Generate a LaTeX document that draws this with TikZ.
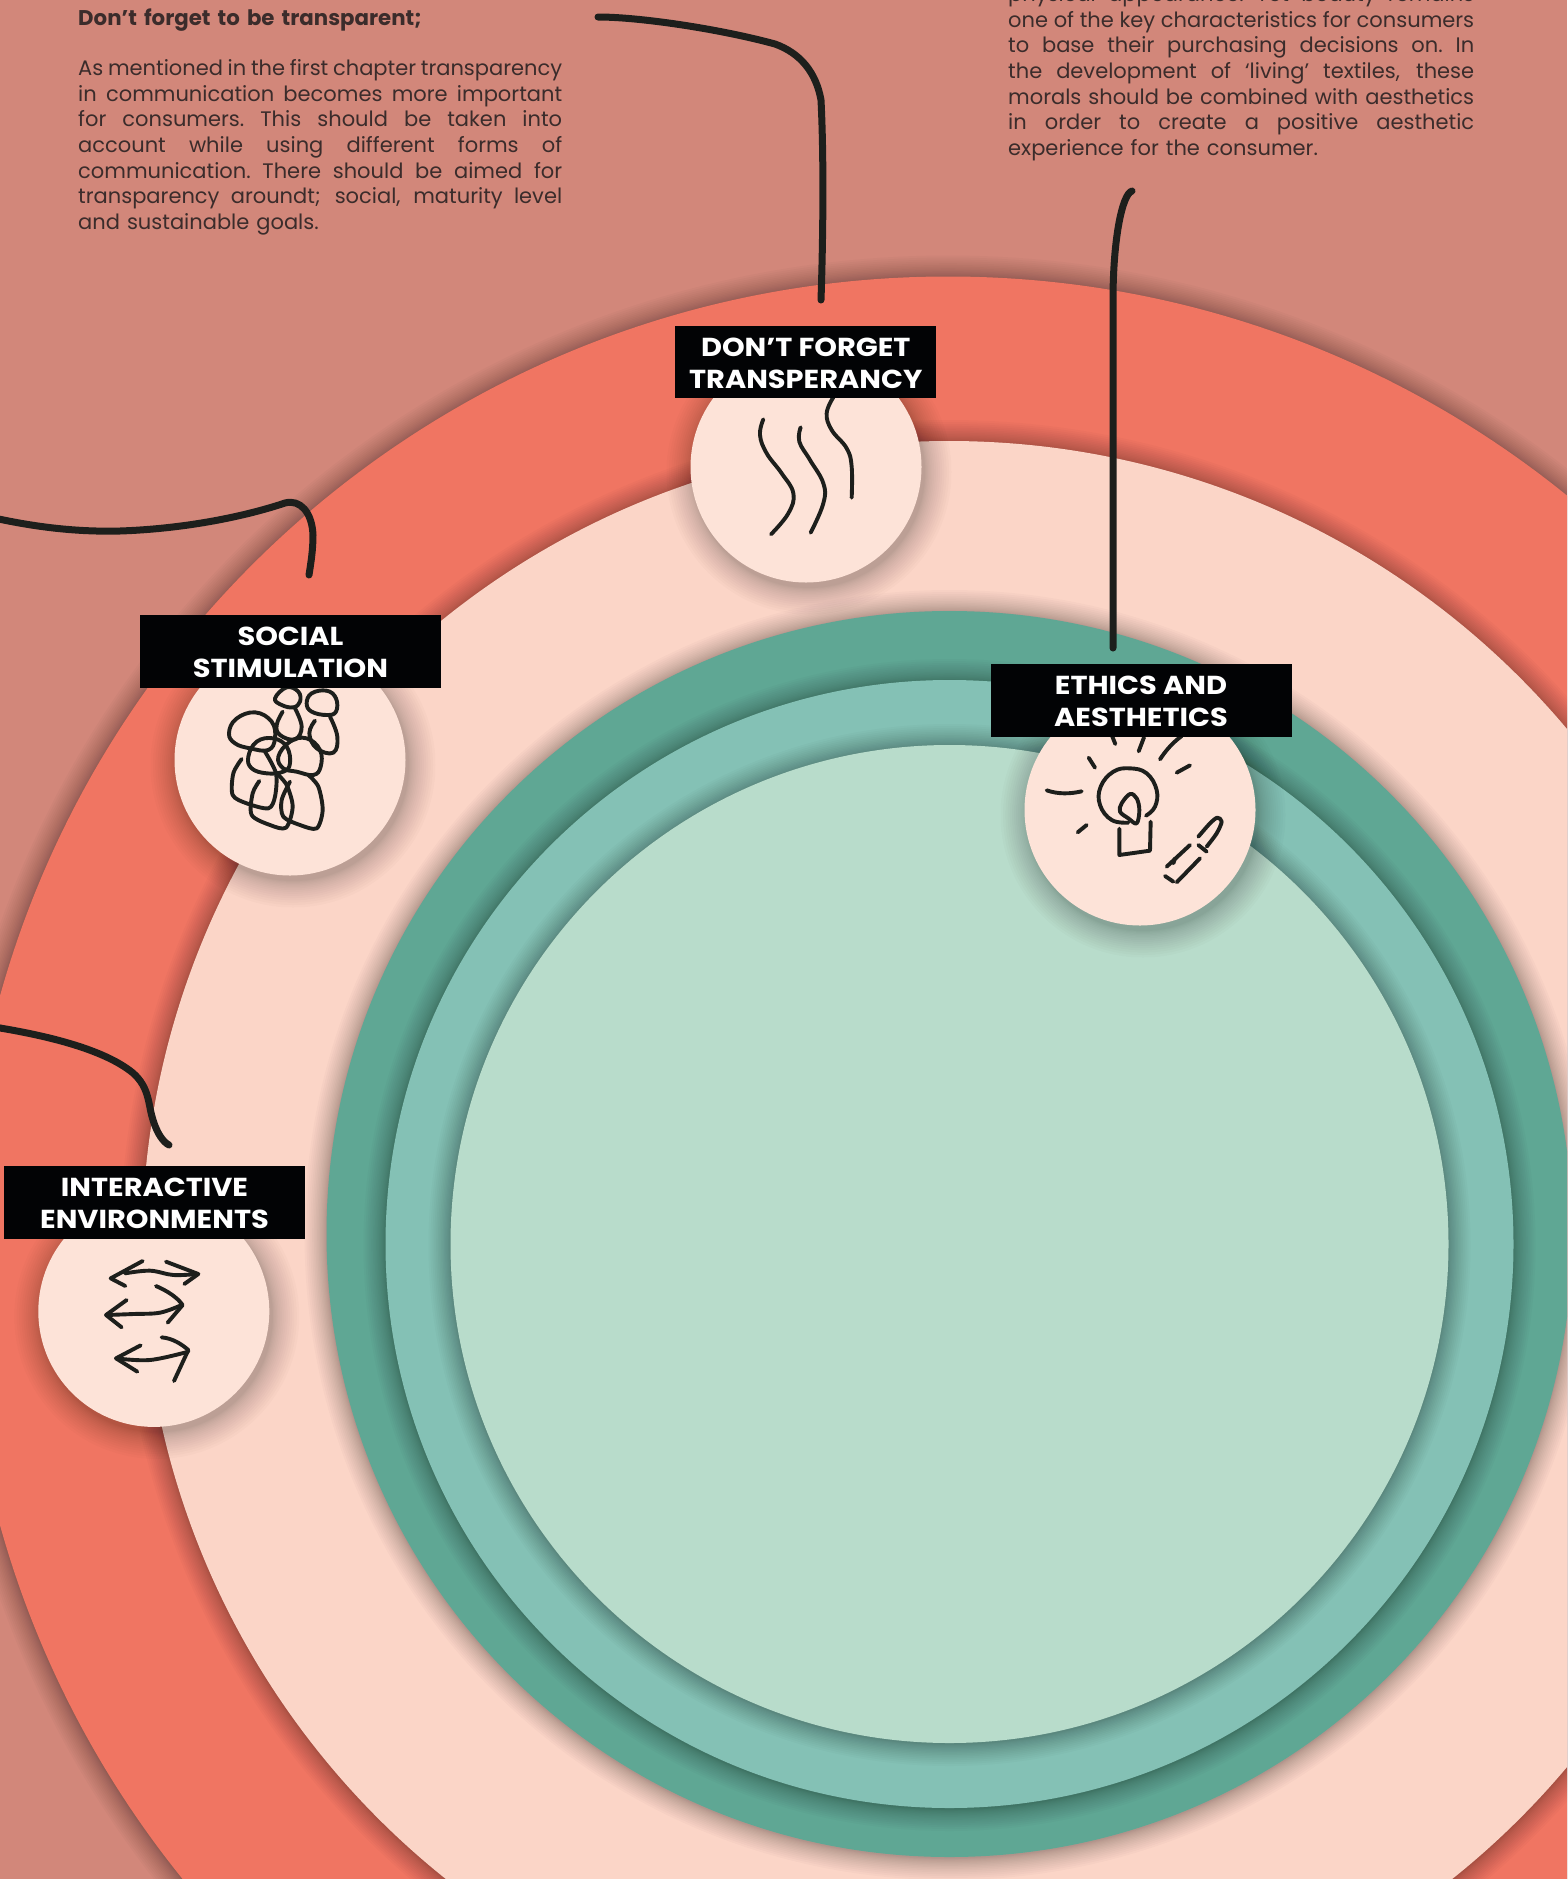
\documentclass[tikz,border=0pt]{standalone}
\usepackage{fontspec}
\setmainfont{Poppins}
\newfontfamily\labelfont[FakeStretch=1.11]{Poppins}
\definecolor{bgc}{HTML}{D2877A}
\definecolor{salmonc}{HTML}{F07562}
\definecolor{peachc}{HTML}{FBD5C7}
\definecolor{darkgreen}{HTML}{5FA794}
\definecolor{tealc}{HTML}{84C1B5}
\definecolor{lightgreen}{HTML}{B8DCCB}
\definecolor{iconbg}{HTML}{FDE3D8}
\definecolor{inkc}{HTML}{1D1F1C}
\definecolor{textc}{HTML}{3B2C2B}
\definecolor{boxc}{HTML}{020305}
\tikzset{
  x=1pt,y=-1pt,
  discnode/.style={circle,inner sep=0pt,outer sep=0pt,draw=none},
  labelbox/.style={fill=boxc,text=white,inner sep=0pt,align=center,minimum width=301pt,minimum height=72.5pt,
    font=\labelfont\fontsize{26}{32}\selectfont\bfseries},
  bodytext/.style={inner sep=0pt,anchor=north west,text=textc,align=left,font=\fontsize{21}{25.6}\selectfont},
  connector/.style={draw=inkc,line width=7pt,line cap=round,line join=round},
  iconline/.style={draw=inkc,line width=3.9pt,line cap=round,line join=round},
}
% name, x, y, radius, colour, offset x, offset y, spread, alpha per layer
\newcommand{\softdisc}[9]{%
  \foreach \k in {1,...,16}{%
    \pgfmathsetmacro{\dd}{#4+#8*(\k/16)^1.5}%
    \fill[black,fill opacity=#9] (#2+#6,#3+#7) circle[radius=\dd pt];
  }%
  \node[discnode,fill=#5,minimum size=2*#4 pt] (#1) at (#2,#3) {};
}
\newcommand{\jl}[1]{\makebox[\linewidth][s]{\spaceskip=0.26em plus 1fil minus 0.1em\xspaceskip=\spaceskip\relax #1}}
\newcommand{\lblstrut}{\rule{0pt}{21pt}}
\begin{document}
\begin{tikzpicture}
\useasboundingbox (0,0) rectangle (1567,1879);
\clip (0,0) rectangle (1567,1879);
\fill[bgc] (0,0) rectangle (1567,1879);

% concentric discs
\softdisc{outerring}{948}{1260.5}{984}{salmonc}{0}{1}{22}{0.019}
\softdisc{peachring}{949}{1248}{807}{peachc}{0}{1}{22}{0.019}
\softdisc{darkring}{949.5}{1234}{623}{darkgreen}{0}{1}{22}{0.019}
\softdisc{tealring}{949.5}{1244}{564}{tealc}{0}{1}{22}{0.019}
\softdisc{lightcore}{949.5}{1244}{499}{lightgreen}{0}{1}{22}{0.019}

% icon discs
\softdisc{transdisc}{806}{467}{115.5}{iconbg}{3}{5}{27}{0.014}
\softdisc{socialdisc}{290}{760}{115.5}{iconbg}{3}{5}{27}{0.014}
\softdisc{ethicsdisc}{1140}{810}{115.5}{iconbg}{3}{5}{27}{0.014}
\softdisc{interdisc}{153.8}{1311.4}{115.5}{iconbg}{3}{5}{27}{0.014}

% icon: transparency (waves)
\begin{scope}[shift={(660,310)},scale=0.33333]
\draw[iconline] plot[smooth,tension=0.7] coordinates {(310,328)(300,375)(320,430)(365,490)(400,550)(385,610)(333,673)};
\draw[iconline] plot[smooth,tension=0.7] coordinates {(422,352)(418,395)(450,450)(490,520)(490,580)(452,668)};
\draw[iconline] plot[smooth,tension=0.7] coordinates {(520,262)(500,310)(515,360)(560,415)(575,470)(575,563)};
\end{scope}

% icon: social (people)
\begin{scope}[shift={(130,600)},scale=0.33333]
\draw[iconline] plot[smooth cycle,tension=0.7] coordinates {(435,295)(470,262)(505,275)(510,305)(490,322)(455,315)};
\draw[iconline] plot[smooth,tension=0.7] coordinates {(458,335)(440,375)(450,405)(495,418)(515,380)(495,325)};
\draw[iconline] plot[smooth cycle,tension=0.7] coordinates {(530,310)(545,280)(590,272)(618,295)(618,335)(590,345)(545,335)};
\draw[iconline] plot[smooth,tension=0.7] coordinates {(555,362)(538,400)(560,445)(610,458)(622,410)(600,350)};
\draw[iconline] plot[smooth cycle,tension=0.7] coordinates {(297,400)(318,357)(375,337)(425,365)(435,415)(415,450)(360,445)(315,430)};
\draw[iconline] plot[smooth,tension=0.5] coordinates {(335,477)(310,520)(308,585)(350,610)(415,625)(435,590)(438,520)(405,455)};
\draw[iconline] plot[smooth cycle,tension=0.7] coordinates {(355,470)(380,425)(430,415)(470,440)(480,490)(460,515)(410,520)(365,505)};
\draw[iconline] plot[smooth cycle,tension=0.7] coordinates {(445,470)(480,425)(530,415)(570,450)(572,500)(550,525)(500,515)(460,505)};
\draw[iconline] plot[smooth,tension=0.5] coordinates {(388,543)(368,580)(365,645)(420,675)(468,683)(488,620)(470,555)(440,520)};
\draw[iconline] plot[smooth,tension=0.5] coordinates {(480,545)(455,600)(460,650)(510,675)(560,685)(578,630)(565,560)(535,525)};
\end{scope}

% icon: ethics (candle and pen)
\begin{scope}[shift={(980,650)},scale=0.33333]
\draw[iconline] (383,225) -- (406,282);
\draw[iconline] (492,262) -- (476,304);
\draw[iconline] (605,258) .. controls (575,280) and (555,305) .. (540,328);
\draw[iconline] (630,346) -- (590,368);
\draw[iconline] (326,323) -- (345,353);
\draw[iconline] (200,421) .. controls (235,433) and (270,432) .. (305,424);
\draw[iconline] (320,525) -- (293,547);
\draw[iconline] plot[smooth,tension=0.7] coordinates {(445,518)(395,510)(360,465)(362,410)(400,365)(450,355)(500,370)(530,420)(525,470)(498,497)};
\draw[iconline] plot[smooth cycle,tension=0.6] coordinates {(450,432)(425,460)(420,485)(445,505)(470,520)(478,480)(470,445)};
\draw[iconline] (418,536) -- (418,615) -- (510,602) -- (512,515);
\draw[iconline] plot[smooth,tension=0.5] coordinates {(655,560)(690,520)(712,503)(725,515)(710,550)(680,590)};
\draw[iconline] (655,585) -- (680,605);
\draw[iconline] (630,585) -- (560,650);
\draw[iconline] (585,625) -- (580,640);
\draw[iconline] (660,625) -- (590,697);
\draw[iconline] (555,678) -- (580,695);
\end{scope}

% icon: interactive (arrows)
\begin{scope}[shift={(0,1150)},scale=0.33333]
\draw[iconline] plot[smooth,tension=0.6] coordinates {(375,370)(450,362)(520,375)(590,372)};
\draw[iconline] (428,333) -- (332,385) -- (376,408);
\draw[iconline] (498,335) -- (595,372) -- (553,402);
\draw[iconline] plot[smooth,tension=0.6] coordinates {(320,495)(400,492)(480,488)(545,465)};
\draw[iconline] (380,450) -- (318,495) -- (365,532);
\draw[iconline] (468,408) .. controls (500,422) and (530,440) .. (548,465) -- (503,518);
\draw[iconline] plot[smooth,tension=0.6] coordinates {(348,625)(450,630)(565,605)};
\draw[iconline] (422,586) -- (348,625) -- (412,665);
\draw[iconline] (485,562) .. controls (520,565) and (548,585) .. (565,600) -- (522,693);
\end{scope}

% labels
\node[labelbox,minimum width=261pt] (translabel) at (805.8,361.8) {\lblstrut DON’T FORGET\\TRANSPERANCY};
\node[labelbox] (sociallabel) at (290.5,651.3) {\lblstrut SOCIAL\\STIMULATION};
\node[labelbox] (ethicslabel) at (1141,700.5) {\lblstrut ETHICS AND\\AESTHETICS};
\node[labelbox] (interlabel) at (154.5,1202.3) {\lblstrut INTERACTIVE\\ENVIRONMENTS};

% text blocks
\node[bodytext,text width=484pt,font=\fontsize{21.3}{25.6}\selectfont] (transtitle) at (78,8.5) {\textbf{Don’t forget to be transparent;}};
\node[bodytext,text width=484pt] (transtext) at (78,59.5) {%
\jl{As mentioned in the first chapter transparency}\\
\jl{in communication becomes more important}\\
\jl{for consumers. This should be taken into}\\
\jl{account while using different forms of}\\
\jl{communication. There should be aimed for}\\
\jl{transparency aroundt; social, maturity level}\\
and sustainable goals.};
\node[bodytext,text width=466pt] (ethicstext) at (1008,-14.5) {%
\jl{physical appearance. Yet beauty remains}\\
\jl{one of the key characteristics for consumers}\\
\jl{to base their purchasing decisions on. In}\\
\jl{the development of ‘living’ textiles, these}\\
\jl{morals should be combined with aesthetics}\\
\jl{in order to create a positive aesthetic}\\
experience for the consumer.};

% connectors
\coordinate (c1a) at (598,17);
\coordinate (c1b) at (821,300);
\coordinate (c2a) at (1132,191);
\coordinate (c2b) at (1113,648);
\coordinate (c3a) at (-6,518);
\coordinate (c3b) at (309,575);
\coordinate (c4a) at (-6,1027);
\coordinate (c4b) at (169,1145);
\draw[connector] (c1a) .. controls (640,17) and (720,29) .. (775,44) .. controls (800,53) and (816,72) .. (821,100) .. controls (824,160) and (823,240) .. (c1b);
\draw[connector] (c2a) .. controls (1122,194) and (1113,240) .. (1113,300) -- (c2b);
\draw[connector] (c3a) .. controls (40,528) and (80,532) .. (120,531) .. controls (180,529) and (240,518) .. (285,503) .. controls (300,499) and (312,512) .. (313,535) .. controls (313,550) and (311,562) .. (c3b);
\draw[connector] (c4a) .. controls (50,1036) and (105,1050) .. (133,1073) .. controls (150,1088) and (148,1105) .. (153,1120) .. controls (157,1133) and (163,1142) .. (c4b);
\end{tikzpicture}
\end{document}
